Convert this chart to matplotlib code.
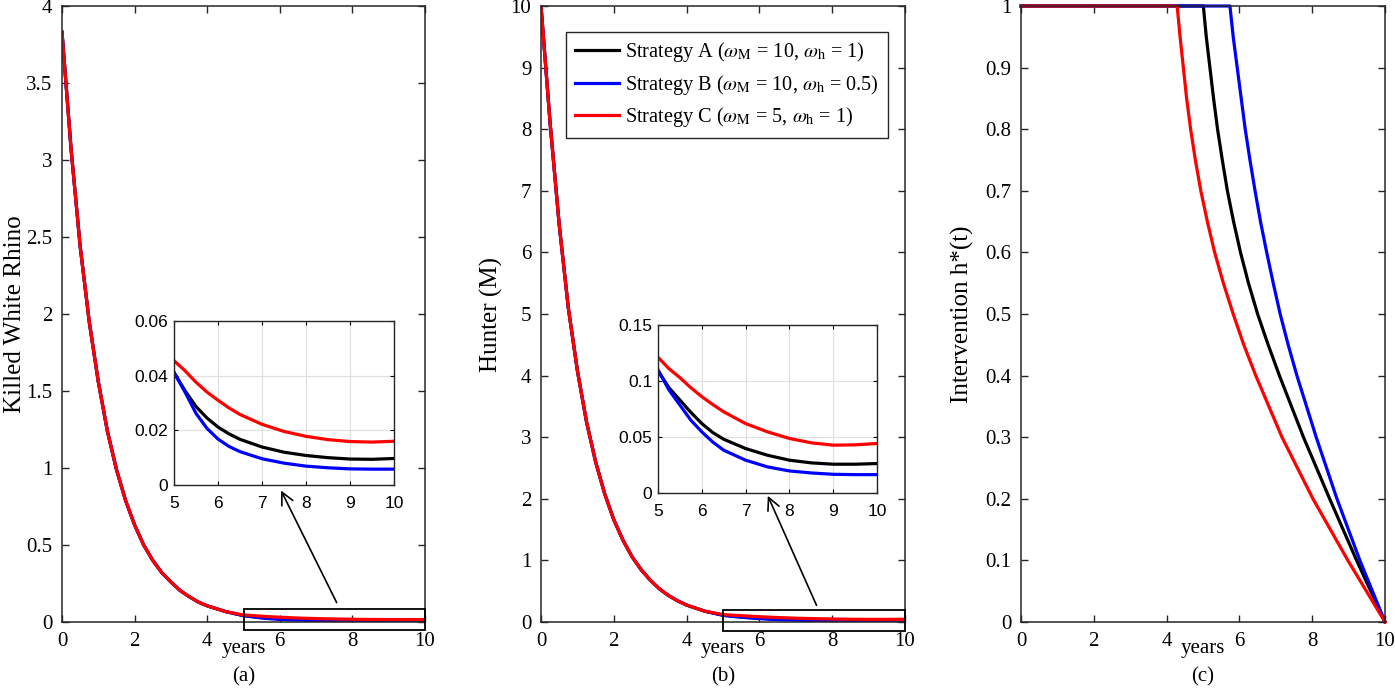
import matplotlib
matplotlib.use("Agg")
import matplotlib.pyplot as plt
from matplotlib.patches import Rectangle

# ---- data ----
labels = [r"Strategy A ($\omega_{\mathrm{M}}$ = 10, $\omega_{\mathrm{h}}$ = 1)",
          r"Strategy B ($\omega_{\mathrm{M}}$ = 10, $\omega_{\mathrm{h}}$ = 0.5)",
          r"Strategy C ($\omega_{\mathrm{M}}$ = 5, $\omega_{\mathrm{h}}$ = 1)"]
colors = ["black", "blue", "red"]

t_main = [0, 0.25, 0.5, 0.75, 1, 1.25, 1.5, 1.75, 2, 2.25, 2.5, 2.75, 3, 3.25, 3.5, 3.75, 4, 4.5]
rhino_main = [3.83, 3.07, 2.44, 1.95, 1.56, 1.24, 0.99, 0.79, 0.63, 0.50, 0.40, 0.32, 0.26,
              0.205, 0.165, 0.13, 0.105, 0.068]
hunter_main = [10.0, 8.1, 6.45, 5.1, 4.08, 3.25, 2.6, 2.08, 1.66, 1.33, 1.06, 0.85, 0.68,
               0.54, 0.43, 0.345, 0.275, 0.175]

t_tail = [5, 5.25, 5.5, 5.75, 6, 6.25, 6.5, 7, 7.5, 8, 8.5, 9, 9.5, 10]
rhino_A = [0.0412, 0.0345, 0.0287, 0.0245, 0.0212, 0.0187, 0.0167, 0.0139, 0.0120, 0.0108,
           0.0100, 0.0095, 0.0094, 0.0097]
rhino_B = [0.0412, 0.0340, 0.0262, 0.0207, 0.0168, 0.0141, 0.0122, 0.0096, 0.0080, 0.0069,
           0.0063, 0.0059, 0.0058, 0.0058]
rhino_C = [0.0455, 0.0418, 0.0376, 0.0340, 0.0310, 0.0282, 0.0258, 0.0222, 0.0196, 0.0178,
           0.0166, 0.0159, 0.0157, 0.0160]

hunter_A = [0.109, 0.094, 0.083, 0.072, 0.062, 0.054, 0.048, 0.0397, 0.0337, 0.0293, 0.0269,
            0.0257, 0.0257, 0.0263]
hunter_B = [0.110, 0.092, 0.0785, 0.065, 0.0546, 0.0455, 0.0382, 0.0293, 0.0233, 0.0197,
            0.0179, 0.0167, 0.0164, 0.0164]
hunter_C = [0.1212, 0.111, 0.103, 0.094, 0.086, 0.079, 0.0725, 0.062, 0.0546, 0.0487, 0.0448,
            0.0427, 0.043, 0.0442]

ctrl_h = [1, 1, 0.95, 0.9, 0.85, 0.8, 0.75, 0.7, 0.65, 0.6, 0.55, 0.5, 0.45, 0.4, 0.3, 0.2, 0.1, 0]
ctrl_t_A = [0, 5.01, 5.09, 5.19, 5.29, 5.40, 5.53, 5.67, 5.84, 6.03, 6.25, 6.50, 6.79, 7.10,
            7.76, 8.48, 9.22, 10]
ctrl_t_B = [0, 5.74, 5.83, 5.94, 6.05, 6.16, 6.29, 6.43, 6.58, 6.75, 6.93, 7.12, 7.34, 7.58,
            8.11, 8.68, 9.31, 10]
ctrl_t_C = [0, 4.29, 4.37, 4.46, 4.55, 4.66, 4.79, 4.94, 5.12, 5.32, 5.56, 5.83, 6.12, 6.45,
            7.17, 8.02, 8.98, 10]

rhino_tails = [rhino_A, rhino_B, rhino_C]
hunter_tails = [hunter_A, hunter_B, hunter_C]
ctrl_ts = [ctrl_t_A, ctrl_t_B, ctrl_t_C]

# ---- style ----
plt.rcParams['font.family'] = ['Liberation Serif', 'DejaVu Serif']
plt.rcParams['mathtext.fontset'] = 'stix'
plt.rcParams['font.size'] = 15
axis_col = (0.15, 0.15, 0.15)
LW = 2.3

fig = plt.figure(figsize=(13.95, 6.9), dpi=100)
W, H = 1395.0, 690.0


def px_axes(x0, x1, y0, y1):
    return fig.add_axes([x0 / W, 1 - y1 / H, (x1 - x0) / W, (y1 - y0) / H])


def style_main(ax, yticks, ylab, tag, labx):
    ax.set_xlim(0, 10)
    ax.set_xticks(range(0, 11, 2))
    ax.set_yticks(yticks)
    ax.set_yticklabels(["%g" % round(v, 2) for v in yticks])
    ax.tick_params(direction='in', top=True, right=True, length=5, width=1,
                   color=axis_col, labelsize=15, pad=7)
    for s in ax.spines.values():
        s.set_color(axis_col)
        s.set_linewidth(1.1)
    ax.set_ylabel(ylab, fontsize=18)
    ax.yaxis.set_label_coords(labx, 0.5)
    ax.text(0.5, -0.050, "years", transform=ax.transAxes, ha='center', va='baseline', fontsize=15)
    ax.text(0.5, -0.096, tag, transform=ax.transAxes, ha='center', va='baseline', fontsize=15)


def style_inset(ax, ylim, yticks):
    ax.set_xlim(5, 10)
    ax.set_ylim(*ylim)
    ax.set_xticks(range(5, 11))
    ax.set_yticks(yticks)
    ax.set_yticklabels(["%g" % v for v in yticks])
    ax.grid(True, color=(0.88, 0.88, 0.88), lw=0.9)
    ax.set_axisbelow(True)
    ax.tick_params(direction='in', top=True, right=True, length=3, width=0.8,
                   labelsize=12.5, pad=4)
    ax.tick_params(axis='x', pad=8)
    for lab in ax.get_xticklabels() + ax.get_yticklabels():
        lab.set_fontfamily('Liberation Sans')
    for s in ax.spines.values():
        s.set_color(axis_col)
        s.set_linewidth(1.0)


# ---- (a) killed rhino ----
ax_a = px_axes(62, 425, 6, 622)
for tail, c in zip(rhino_tails, colors):
    ax_a.plot(t_main + t_tail, rhino_main + tail, color=c, lw=LW)
ax_a.set_ylim(0, 4)
style_main(ax_a, [i * 0.5 for i in range(9)], "Killed White Rhino", "(a)", -0.098)
ax_a.add_patch(Rectangle((5, -0.05), 5, 0.135, fill=False, ec='black', lw=1.3, clip_on=False, zorder=5))
ax_a.annotate("", xy=(6.0, 0.87), xytext=(7.6, 0.11),
              arrowprops=dict(arrowstyle='->', color='black', lw=1.2, mutation_scale=22))

in_a = px_axes(174, 394, 321, 485)
for tail, c in zip(rhino_tails, colors):
    in_a.plot(t_tail, tail, color=c, lw=LW)
style_inset(in_a, (0, 0.06), [0, 0.02, 0.04, 0.06])

# ---- (b) hunter ----
ax_b = px_axes(541, 905, 6, 622)
for tail, c, lab in zip(hunter_tails, colors, labels):
    ax_b.plot(t_main + t_tail, hunter_main + tail, color=c, lw=LW, label=lab)
ax_b.set_ylim(0, 10)
style_main(ax_b, list(range(11)), "Hunter (M)", "(b)", -0.105)
ax_b.add_patch(Rectangle((5, -0.146), 5, 0.34, fill=False, ec='black', lw=1.3, clip_on=False, zorder=5))
ax_b.annotate("", xy=(6.2, 2.09), xytext=(7.6, 0.23),
              arrowprops=dict(arrowstyle='->', color='black', lw=1.2, mutation_scale=22))
leg = ax_b.legend(loc='upper left', bbox_to_anchor=(0.069, 0.958), fancybox=False,
                  edgecolor=axis_col, framealpha=1, fontsize=14.6, handlelength=2.2,
                  borderpad=0.42, labelspacing=0.42, handletextpad=0.3, borderaxespad=0)
leg.get_frame().set_linewidth(1.0)

in_b = px_axes(658, 877, 325, 493)
for tail, c in zip(hunter_tails, colors):
    in_b.plot(t_tail, tail, color=c, lw=LW)
style_inset(in_b, (0, 0.15), [0, 0.05, 0.1, 0.15])

# ---- (c) control ----
ax_c = px_axes(1021, 1385, 6, 622)
for ts, c in zip(ctrl_ts, colors):
    ax_c.plot(ts, ctrl_h, color=c, lw=LW, clip_on=False)
ax_c.set_ylim(0, 1)
style_main(ax_c, [i / 10 for i in range(11)], "Intervention h*(t)", "(c)", -0.128)

fig.savefig("out.png", dpi=100)
